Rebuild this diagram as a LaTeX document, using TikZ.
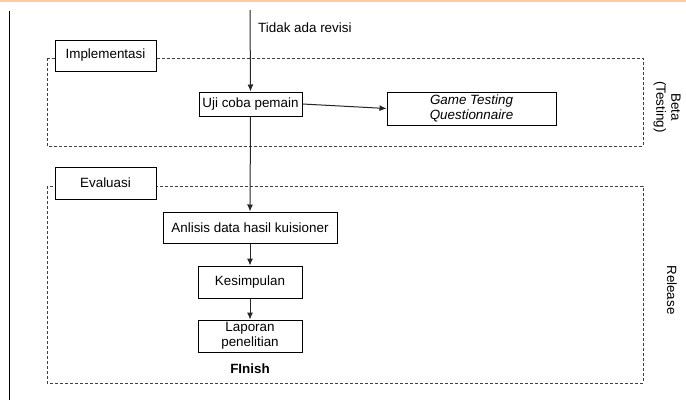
\documentclass[tikz,border=0pt]{standalone}
\usepackage{fontspec}
\setmainfont{Liberation Sans}
\usetikzlibrary{arrows.meta}
\definecolor{topband}{RGB}{252,204,160}
\begin{document}
\begin{tikzpicture}[x=1pt,y=-1pt,
  every node/.style={font=\fontsize{13.4}{15}\selectfont, inner sep=0pt},
  stepbox/.style={draw=black, line width=1pt, fill=white, align=center},
  phasebox/.style={draw=black!75, line width=1pt, dash pattern=on 3pt off 2pt},
  flow/.style={draw=black!85, line width=1pt, -{Latex[length=7pt,width=6pt]}},
  sidelabel/.style={rotate=-90, align=center}]
\useasboundingbox (0,0) rectangle (686,400);
\fill[topband] (0,0) rectangle (686,2);
\draw[black, line width=1pt] (9,11) -- (9,400);
% phase frames
\draw[phasebox] (47,58) rectangle (643,146);
\draw[phasebox] (47,186) rectangle (643,383);
% nodes
\coordinate (top) at (250,10);
\node[stepbox, minimum width=101pt, minimum height=31pt] (impl) at (105.5,55.5) {Implementasi};
\node[stepbox, minimum width=103pt, minimum height=24pt] (uji) at (250.5,104) {Uji coba pemain};
\node[stepbox, minimum width=169pt, minimum height=33pt] (game) at (471.5,108.5) {\itshape Game Testing\\\itshape Questionnaire};
\node[stepbox, minimum width=101pt, minimum height=32pt] (eval) at (105.5,183) {Evaluasi};
\node[stepbox, minimum width=174pt, minimum height=31pt] (anl) at (250,227.5) {Anlisis data hasil kuisioner};
\node[stepbox, minimum width=104pt, minimum height=32pt] (kes) at (250,282) {Kesimpulan};
\node[stepbox, minimum width=104pt, minimum height=32pt] (lap) at (250,336) {Laporan\\penelitian};
\node[font=\fontsize{13.4}{15}\selectfont\bfseries] (fin) at (250,369) {FInish};
\node[anchor=west] (rev) at (258,28) {Tidak ada revisi};
\node[sidelabel] (beta) at (667,107) {Beta\\(Testing)};
\node[sidelabel] (rel) at (672,290) {Release};
% connectors
\draw[flow] (top) -- (uji.north);
\draw[flow] (uji.east) -- (game.west);
\draw[flow] (uji.south) -- (anl.north);
\draw[flow] (anl.south) -- (kes.north);
\draw[flow] (kes.south) -- (lap.north);
\end{tikzpicture}
\end{document}
